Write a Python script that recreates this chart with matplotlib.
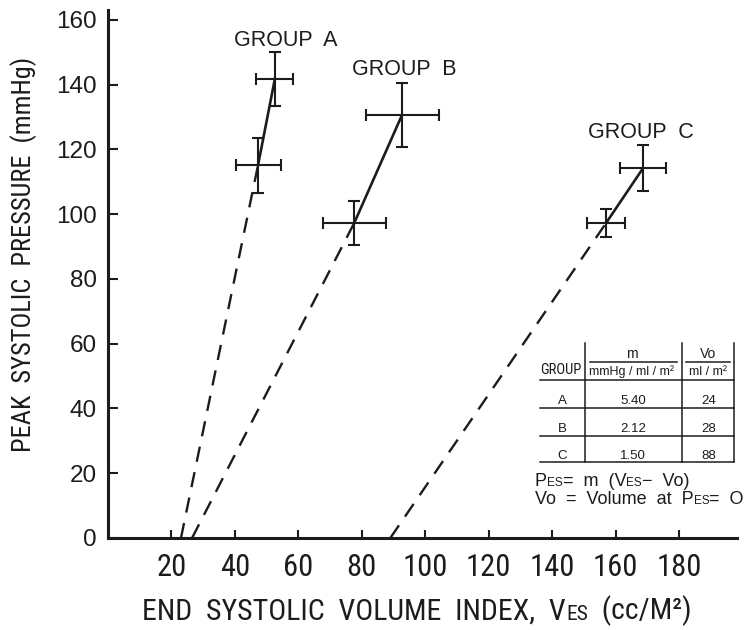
import matplotlib
matplotlib.use("Agg")
import matplotlib.pyplot as plt
from matplotlib.offsetbox import TextArea, HPacker, AnnotationBbox

# values
groups = ["A", "B", "C"]
vol_low = [47.3, 77.6, 157.0]
pres_low = [115.1, 97.2, 97.2]
vol_high = [52.6, 92.7, 168.7]
pres_high = [141.7, 130.6, 114.2]
xerr_low = [7.1, 9.9, 6.0]
yerr_low = [8.5, 6.8, 4.3]
xerr_high = [5.8, 11.5, 7.3]
yerr_high = [8.3, 9.9, 7.0]
v0_drawn = [23.0, 26.5, 89.0]   # where the dashed extrapolations hit zero

# inset table
table_m = ["5.40", "2.12", "1.50"]
table_vo = ["24", "28", "88"]

xticks = [20, 40, 60, 80, 100, 120, 140, 160, 180]
yticks = [0, 20, 40, 60, 80, 100, 120, 140, 160]

INK = "#1c1c1c"
NARROW = ["Liberation Sans Narrow", "Roboto Condensed", "Archivo Narrow",
          "Liberation Sans", "DejaVu Sans"]
REG = ["Liberation Sans", "DejaVu Sans"]

fig = plt.figure(figsize=(7.53, 6.30), dpi=100)
ax = fig.add_axes([108 / 753, 92 / 630, 629 / 753, 528 / 630])

for i in range(len(groups)):
    ax.plot([v0_drawn[i], vol_low[i]], [0, pres_low[i]], color=INK, lw=1.7,
            linestyle=(0, (6.5, 4.5)))
    ax.plot([vol_low[i], vol_high[i]], [pres_low[i], pres_high[i]], color=INK, lw=1.9)
    ax.errorbar([vol_low[i], vol_high[i]], [pres_low[i], pres_high[i]],
                xerr=[xerr_low[i], xerr_high[i]], yerr=[yerr_low[i], yerr_high[i]],
                fmt="none", ecolor=INK, elinewidth=1.5, capsize=4, capthick=1.5)

label_pos = [(56.1, 153.7), (93.3, 144.5), (168.0, 125.3)]
for g, (lx, ly) in zip(groups, label_pos):
    ax.text(lx, ly, f"GROUP  {g}", ha="center", va="center", fontsize=15.5,
            family=REG, color=INK)

ax.set_xlim(0, 198.3)
ax.set_ylim(0, 163)
ax.set_xticks(xticks)
ax.set_yticks(yticks)
for s in ["top", "right"]:
    ax.spines[s].set_visible(False)
for s in ["left", "bottom"]:
    ax.spines[s].set_linewidth(2.2)
    ax.spines[s].set_color(INK)
ax.tick_params(axis="x", direction="in", length=6, width=1.5, color=INK, pad=11,
               labelsize=22, labelcolor=INK)
ax.tick_params(axis="y", direction="in", length=7.5, width=1.5, color=INK, pad=8,
               labelsize=17.5, labelcolor=INK)
for t in ax.get_xticklabels():
    t.set_family(NARROW)
for t in ax.get_yticklabels():
    t.set_family(REG)

# overlay in image pixel coordinates for the annotations
ov = fig.add_axes([0, 0, 1, 1], facecolor="none")
ov.set_xlim(0, 753)
ov.set_ylim(630, 0)
ov.axis("off")


def mixed(pieces, x, y, size, family, align=(0, 0.5)):
    boxes = [TextArea(s, textprops=dict(size=size * k, family=family, color=INK))
             for s, k in pieces]
    pack = HPacker(children=boxes, align="baseline", pad=0, sep=0)
    ab = AnnotationBbox(pack, (x, y), xycoords=ov.transData, box_alignment=align,
                        frameon=False, pad=0)
    ov.add_artist(ab)


ov.text(24, 254, "PEAK  SYSTOLIC  PRESSURE  (mmHg)", rotation=90, ha="center",
        va="center", fontsize=19, family=NARROW, color=INK)
mixed([("END  SYSTOLIC  VOLUME  INDEX,  V", 1), ("ES", 0.72), ("  (cc/M²)", 1)],
      417, 611, 21.5, NARROW, align=(0.5, 0.5))

# inset table
lw_t = 1.1
for xv in [585, 682, 734]:
    ov.plot([xv, xv], [343, 462], color=INK, lw=lw_t)
for yh in [380, 408, 436, 462]:
    ov.plot([540, 734], [yh, yh], color=INK, lw=lw_t)
ov.plot([590, 677], [362, 362], color=INK, lw=lw_t)
ov.plot([686, 730], [362, 362], color=INK, lw=lw_t)
ov.text(561, 370, "GROUP", ha="center", va="center", fontsize=10.5, family=NARROW, color=INK)
ov.text(632, 354, "m", ha="center", va="center", fontsize=10, family=REG, color=INK)
ov.text(632, 372, "mmHg / ml / m²", ha="center", va="center", fontsize=9, family=REG, color=INK)
ov.text(708, 354, "Vo", ha="center", va="center", fontsize=10, family=REG, color=INK)
ov.text(708, 372, "ml / m²", ha="center", va="center", fontsize=9, family=REG, color=INK)
for g, m, vo, yr in zip(groups, table_m, table_vo, [401, 429, 456]):
    ov.text(562, yr, g, ha="center", va="center", fontsize=9.5, family=REG, color=INK)
    ov.text(633, yr, m, ha="center", va="center", fontsize=9.5, family=REG, color=INK)
    ov.text(709, yr, vo, ha="center", va="center", fontsize=9.5, family=REG, color=INK)

mixed([("P", 1), ("ES", 0.65), ("=  m  (V", 1), ("ES", 0.65), ("−  Vo)", 1)],
      535, 482, 13, REG)
mixed([("Vo  =  Volume  at  P", 1), ("ES", 0.65), ("=  O", 1)], 535, 499, 13, REG)

fig.savefig("out.png", dpi=100, facecolor="white")
